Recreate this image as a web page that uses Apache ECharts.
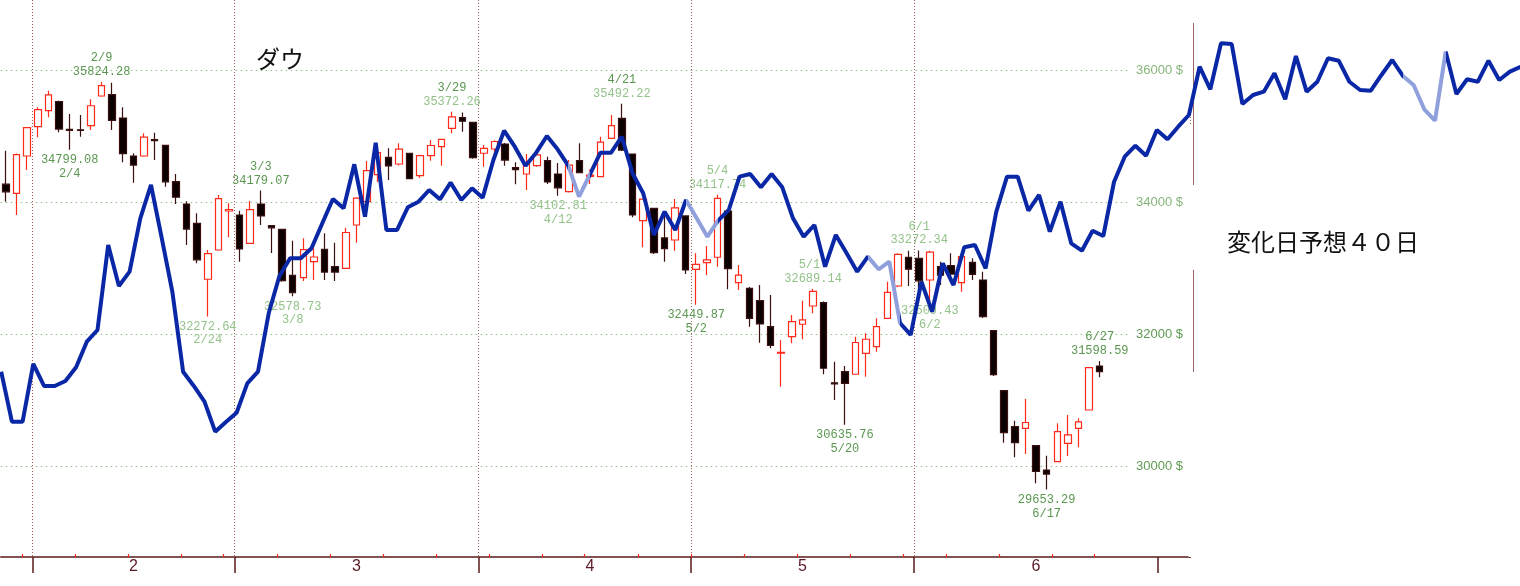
<!DOCTYPE html>
<html>
<head>
<meta charset="utf-8">
<title>ダウ</title>
<script src="https://cdn.jsdelivr.net/npm/echarts@6/dist/echarts.min.js"></script>
<style>
  html, body { margin: 0; padding: 0; background: #fff; }
  #chart { width: 1520px; height: 586px; }
</style>
</head>
<body>
<div id="chart"></div>
<script>
// 2022 trading days shown on the chart
const dates = [
  '1/27', '1/28', '1/31',
  '2/1', '2/2', '2/3', '2/4', '2/7', '2/8', '2/9', '2/10', '2/11', '2/14', '2/15', '2/16', '2/17', '2/18', '2/22', '2/23', '2/24', '2/25', '2/28',
  '3/1', '3/2', '3/3', '3/4', '3/7', '3/8', '3/9', '3/10', '3/11', '3/14', '3/15', '3/16', '3/17', '3/18', '3/21', '3/22', '3/23', '3/24', '3/25', '3/28', '3/29', '3/30', '3/31',
  '4/1', '4/4', '4/5', '4/6', '4/7', '4/8', '4/11', '4/12', '4/13', '4/14', '4/18', '4/19', '4/20', '4/21', '4/22', '4/25', '4/26', '4/27', '4/28', '4/29',
  '5/2', '5/3', '5/4', '5/5', '5/6', '5/9', '5/10', '5/11', '5/12', '5/13', '5/16', '5/17', '5/18', '5/19', '5/20', '5/23', '5/24', '5/25', '5/26', '5/27', '5/31',
  '6/1', '6/2', '6/3', '6/6', '6/7', '6/8', '6/9', '6/10', '6/13', '6/14', '6/15', '6/16', '6/17', '6/21', '6/22', '6/23', '6/24', '6/27'
];
// empty slots to the right of the last candle
const futureSlots = ['f1', 'f2', 'f3', 'f4', 'f5', 'f6', 'f7', 'f8'];
const julyStart = 109;

// [open, close, low, high]
const ohlc = [
  [34276, 34160, 34011, 34783], [34138, 34725, 33810, 34740], [34703, 35132, 34491, 35140],
  [35146, 35405, 34986, 35440], [35389, 35629, 35289, 35691], [35525, 35111, 35062, 35540], [35107, 35089, 34799.08, 35339],
  [35100, 35091, 34995, 35324], [35161, 35463, 35096, 35561], [35611, 35768, 35600, 35824.28], [35631, 35241, 35096, 35812],
  [35278, 34738, 34607, 35440], [34703, 34566, 34299, 34744], [34703, 34989, 34690, 35046], [34950, 34934, 34642, 35056],
  [34865, 34312, 34238, 34870], [34314, 34079, 33976, 34430], [33976, 33597, 33356, 34017], [33684, 33131, 33079, 33836],
  [32837, 33224, 32272.64, 33280], [33280, 34059, 33270, 34113], [33870, 33893, 33472, 33987],
  [33810, 33295, 33103, 33875], [33381, 33891, 33370, 34022], [33976, 33795, 33658, 34179.07], [33650, 33615, 33235, 33660],
  [33593, 32817, 32800, 33600], [32897, 32633, 32578.73, 33421], [32861, 33286, 32811, 33457], [33103, 33174, 32826, 33306],
  [33291, 32945, 32826, 33533], [33027, 32945, 32811, 33391], [33003, 33545, 33000, 33618], [33658, 34064, 33391, 34080],
  [34011, 34481, 34000, 34627], [34420, 34755, 34310, 34770], [34683, 34553, 34340, 34819], [34582, 34808, 34560, 34895],
  [34744, 34359, 34350, 34750], [34405, 34708, 34370, 34720], [34707, 34862, 34632, 34945], [34844, 34955, 34556, 34960],
  [35122, 35294, 35046, 35372.26], [35283, 35229, 35071, 35360], [35213, 34678, 34660, 35220],
  [34744, 34818, 34541, 34869], [34809, 34922, 34700, 34940], [34884, 34641, 34556, 34900], [34526, 34497, 34274, 34607],
  [34430, 34583, 34188, 34733], [34556, 34721, 34540, 34780], [34632, 34309, 34279, 34692], [34430, 34221, 34102.81, 34597],
  [34163, 34565, 34150, 34642], [34632, 34452, 34440, 34895], [34395, 34412, 34280, 34500], [34390, 34912, 34385, 34995],
  [34971, 35161, 34960, 35323], [35273, 34793, 34780, 35492.22], [34733, 33811, 33775, 34740], [33724, 34049, 33321, 34060],
  [33911, 33240, 33219, 33920], [33462, 33302, 33103, 33860], [33431, 33916, 33270, 34052], [33795, 32977, 32917, 33800],
  [32988, 33061, 32449.87, 33230], [33088, 33129, 32902, 33341], [33170, 34061, 33027, 34117.74], [33870, 32998, 32685, 33880],
  [32785, 32899, 32674, 33053], [32700, 32246, 32119, 32720], [32513, 32161, 31877, 32750], [32119, 31834, 31792, 32599],
  [31720, 31730, 31211, 31918], [31968, 32197, 31868, 32296], [32156, 32223, 31929, 32513], [32432, 32655, 32322, 32689.14],
  [32482, 31490, 31399, 32500], [31270, 31253, 31010, 31589], [31438, 31262, 30635.76, 31524], [31399, 31880, 31390, 31968],
  [31716, 31929, 31362, 32019], [31816, 32120, 31741, 32246], [32246, 32637, 32240, 32800], [32735, 33213, 32720, 33230],
  [33170, 32990, 32735, 33270],
  [33155, 32813, 32660, 33272.34], [32826, 33248, 32509.43, 33270], [33027, 32899, 32750, 33103], [33042, 32916, 32776, 33230],
  [32785, 33180, 32649, 33200], [33094, 32910, 32826, 33155], [32826, 32272, 32250, 32952], [32059, 31393, 31373, 32070],
  [31150, 30517, 30364, 31160], [30606, 30365, 30142, 30696], [30581, 30669, 30192, 31025], [30318, 29927, 29749, 30330],
  [29950, 29888, 29653.29, 30167], [30076, 30530, 30070, 30657], [30354, 30483, 30162, 30783], [30581, 30677, 30294, 30733],
  [30858, 31500, 30850, 31510], [31524, 31438, 31353, 31598.59]
];

// overlaid blue line, one point per slot
const blueLine = [
  31438, 30681, 30681, 31555, 31222, 31222, 31297, 31505, 31892, 32069,
  33356, 32735, 32952, 33760, 34264, 33462, 32644, 31438, 31222, 30984,
  30530, 30677, 30817, 31262, 31438, 32322, 32887, 33154, 33154, 33306,
  33680, 34052, 33911, 34577, 33784, 34904, 33583, 33583, 33926, 34011,
  34188, 34047, 34299, 34037, 34214, 34072, 34642, 35086, 34844, 34556,
  34753, 35006, 34804, 34556, 34087, 34415, 34753, 34753, 34995, 34441,
  34138, 33507, 33860, 33583, 34037, 33760, 33481, 33724, 33886, 34390,
  34430, 34229, 34430, 34229, 33760, 33481, 33658, 33027, 33507, 33235,
  32952, 33179, 32988, 33103, 32175, 31994, 32800, 32346, 33079, 32750,
  33321, 33356, 33003, 33860, 34390, 34390, 33875, 34113, 33557, 34011,
  33381, 33269, 33572, 33492, 34309, 34692, 34859, 34707, 35096, 34956,
  35146, 35323, 36054, 35712, 36409, 36398, 35490, 35626, 35676, 35955,
  35561, 36216, 35676, 35827, 36182, 36145, 35827, 35702, 35691, 35929,
  36156, 35914, 35778, 35410, 35237, 36282, 35641, 35864, 35827, 36145,
  35853, 35979, 36054
];
// stretches of the blue line drawn faded (point index ranges)
const fadeRanges = [[53, 55], [64, 67], [81, 84], [131, 135]];

// high / low annotations: [date, value, kind]
const marks = [
  ['2/9', 35824.28, 'high'], ['2/4', 34799.08, 'low'], ['3/3', 34179.07, 'high'],
  ['2/24', 32272.64, 'low'], ['3/8', 32578.73, 'low'], ['3/29', 35372.26, 'high'],
  ['4/12', 34102.81, 'low'], ['4/21', 35492.22, 'high'], ['5/2', 32449.87, 'low'],
  ['5/4', 34117.74, 'high'], ['5/17', 32689.14, 'high'], ['6/1', 33272.34, 'high'],
  ['6/2', 32509.43, 'low'], ['5/20', 30635.76, 'low'], ['6/17', 29653.29, 'low'],
  ['6/27', 31598.59, 'high']
];

const yTicks = [30000, 32000, 34000, 36000];
const yMin = 28633;
const yMax = 37064;

// label styling
const fadedMarks = ['2/24', '3/8', '4/12', '5/4', '5/17', '6/1', '6/2'];
const fadedValueOnly = ['3/29', '4/21'];
const shownDate = { '5/17': '5/1 ' };
const darkGreen = '#5a9650';
const lightGreen = '#93c28a';
const blueDark = '#0a27a6';
const blueLight = '#8fa0dc';
const edgeBrown = '#9a6464';

const categories = dates.concat(futureSlots);
const toDate = s => { const p = s.split('/'); return new Date(2022, +p[0] - 1, +p[1]); };
const monthStarts = [];
const weekStarts = [];
for (let i = 1; i < dates.length; i++) {
  const a = toDate(dates[i - 1]), b = toDate(dates[i]);
  if (a.getMonth() !== b.getMonth()) monthStarts.push(i);
  if (b.getDay() < a.getDay()) weekStarts.push(i);
}
const tickMonths = monthStarts.concat([julyStart]);
const labelIdx = [];
for (let m = 0; m < tickMonths.length - 1; m++) {
  labelIdx.push(Math.floor((tickMonths[m] + tickMonths[m + 1]) / 2));
}

const pieces = [];
let from = null;
fadeRanges.forEach(function (r) {
  pieces.push(from === null ? { lt: r[0], color: blueDark } : { gt: from, lt: r[0], color: blueDark });
  pieces.push({ gte: r[0], lte: r[1], color: blueLight });
  from = r[1];
});
pieces.push({ gt: from, color: blueDark });

const markData = marks.map(function (m) {
  const d = shownDate[m[0]] || m[0];
  const v = m[1].toFixed(2);
  const faded = fadedMarks.indexOf(m[0]) >= 0;
  const valFaded = faded || fadedValueOnly.indexOf(m[0]) >= 0;
  const dStyle = faded ? 'dl' : 'dd';
  const vStyle = valFaded ? 'vl' : 'vd';
  const text = m[2] === 'high'
    ? '{' + dStyle + '|' + d + '}\n{' + vStyle + '|' + v + '}'
    : '{' + vStyle + '|' + v + '}\n{' + dStyle + '|' + d + '}';
  return {
    coord: [m[0], m[1]],
    label: { position: m[2] === 'high' ? 'top' : 'bottom', formatter: text }
  };
});

const richLine = { fontFamily: 'Liberation Mono', fontSize: 12, lineHeight: 13.5 };
const chart = echarts.init(document.getElementById('chart'));
chart.setOption({
  animation: false,
  backgroundColor: '#fff',
  title: [
    { text: 'ダウ', left: 256, top: 46, padding: 0,
      textStyle: { fontFamily: 'Noto Sans CJK JP', fontSize: 24, fontWeight: 'normal', color: '#111', lineHeight: 26 } },
    { text: '変化日予想４０日', left: 1227, top: 229, padding: 0,
      textStyle: { fontFamily: 'Noto Sans CJK JP', fontSize: 24, fontWeight: 'normal', color: '#111', lineHeight: 26 } }
  ],
  // right edge of the price pane: hide the closing grid line, keep the two frame pieces
  graphic: [
    { type: 'rect', z: 4, silent: true, shape: { x: 1188.5, y: 0, width: 4, height: 105 }, style: { fill: '#fff' } },
    { type: 'rect', z: 4, silent: true, shape: { x: 1188.5, y: 124, width: 4, height: 433 }, style: { fill: '#fff' } },
    { type: 'rect', z: 4, silent: true, shape: { x: 1186, y: 558, width: 8, height: 20 }, style: { fill: '#fff' } },
    { type: 'line', z: 4, silent: true, shape: { x1: 1193.5, y1: 23, x2: 1193.5, y2: 185 }, style: { stroke: edgeBrown, lineWidth: 1 } },
    { type: 'line', z: 4, silent: true, shape: { x1: 1193.5, y1: 270, x2: 1193.5, y2: 372 }, style: { stroke: edgeBrown, lineWidth: 1 } }
  ],
  grid: [
    { left: 0.7, top: 0, width: 1189.3, height: 557, outerBoundsMode: 'none' },
    { left: 1.2, top: 0, width: 1519.4, height: 557, outerBoundsMode: 'none' }
  ],
  visualMap: {
    show: false, type: 'piecewise', seriesIndex: 1, dimension: 0, pieces: pieces
  },
  xAxis: [
    {
      type: 'category', gridIndex: 0, data: categories, boundaryGap: true,
      axisLine: { lineStyle: { color: '#5a1b1b', width: 1.5 } },
      axisTick: { show: true, interval: (i) => tickMonths.indexOf(i) >= 0, length: 16, lineStyle: { color: '#5a1b1b', width: 1.5 } },
      axisLabel: {
        interval: (i) => labelIdx.indexOf(i) >= 0, formatter: (v) => v.split('/')[0],
        color: '#5a1a26', fontFamily: 'Liberation Sans', fontSize: 16, margin: 2
      },
      splitLine: { show: true, interval: (i) => monthStarts.indexOf(i) >= 0, lineStyle: { color: '#a05a5a', type: [1, 2], width: 1 } }
    },
    {
      type: 'category', gridIndex: 0, data: categories, boundaryGap: true, position: 'bottom',
      axisLine: { show: false },
      axisTick: { show: true, interval: (i) => weekStarts.indexOf(i) >= 0, inside: true, length: 3, lineStyle: { color: '#ff2020', width: 1.2 } },
      axisLabel: { show: false }, splitLine: { show: false }
    },
    {
      type: 'category', gridIndex: 1, data: blueLine.map((v, i) => String(i)), boundaryGap: false, show: false
    }
  ],
  yAxis: [
    {
      type: 'value', gridIndex: 0, position: 'right', min: yMin, max: yMax, scale: true,
      axisLine: { show: false },
      axisTick: { show: false, customValues: yTicks },
      axisLabel: {
        inside: true, margin: 0, customValues: yTicks,
        formatter: (v) => v + ' $',
        color: (v) => (v >= 34000 ? '#86b57b' : '#5f9a52'),
        fontFamily: 'Liberation Sans', fontSize: 13,
        backgroundColor: '#fff', padding: [2, 7, 2, 7]
      },
      splitLine: { show: true, lineStyle: { color: '#8fbf87', type: [1.5, 3.5], width: 1 } }
    },
    { type: 'value', gridIndex: 1, min: yMin, max: yMax, scale: true, show: false }
  ],
  series: [
    {
      type: 'candlestick', xAxisIndex: 0, yAxisIndex: 0, data: ohlc, barWidth: 7,
      itemStyle: { color: '#ffffff', color0: '#0c0000', borderColor: '#ff2a1a', borderColor0: '#3a1010', borderWidth: 1.2 },
      markPoint: {
        symbol: 'circle', symbolSize: 1, itemStyle: { color: 'rgba(0,0,0,0)' },
        label: {
          show: true, distance: 3,
          rich: {
            dd: Object.assign({ color: darkGreen }, richLine),
            dl: Object.assign({ color: lightGreen }, richLine),
            vd: Object.assign({ color: darkGreen }, richLine),
            vl: Object.assign({ color: lightGreen }, richLine)
          }
        },
        data: markData
      },
      z: 2
    },
    {
      type: 'line', xAxisIndex: 2, yAxisIndex: 1, data: blueLine, symbol: 'none',
      lineStyle: { width: 4 }, z: 5, silent: true
    }
  ]
});
</script>
</body>
</html>
